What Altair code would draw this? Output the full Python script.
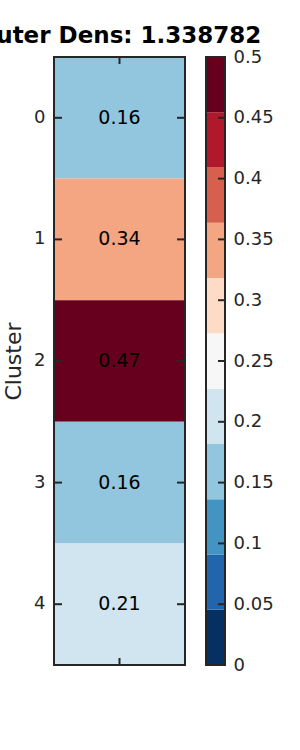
import altair as alt
import numpy as np
import pandas as pd

# ---- data ----
clusters = [0, 1, 2, 3, 4]
densities = [0.16, 0.34, 0.47, 0.16, 0.21]
cbar_ticks = [0, 0.05, 0.1, 0.15, 0.2, 0.25, 0.3, 0.35, 0.4, 0.45, 0.5]
palette = ["#053061", "#2166ac", "#4393c3", "#92c5de", "#d1e5f0", "#f7f7f7",
           "#fddbc7", "#f4a582", "#d6604d", "#b2182b", "#67001f"]
title_text = "Outer Dens: 1.338782"
cmin, cmax = 0, 0.5

FONT = "DejaVu Sans"
INK = "#262626"
W_HEAT = 131
CB_X0, CB_X1 = 152, 171
W, H = 171, 608

heat_df = pd.DataFrame({
    "Cluster": clusters,
    "Density": densities,
    "label": [f"{v:.2f}" for v in densities],
})
edges = np.linspace(cmin, cmax, len(palette) + 1)
cbar_df = pd.DataFrame({"lo": edges[:-1], "hi": edges[1:], "color": palette})
tick_df = pd.DataFrame({"t": cbar_ticks[1:-1]})
one = pd.DataFrame({"k": [0]})

heat_axis = alt.Axis(orient="left", title="Cluster", domain=False, ticks=False,
                     labelAngle=0, labelPadding=9, labelFontSize=18, labelFont=FONT,
                     labelColor=INK, titleFontSize=22, titleFont=FONT,
                     titleFontWeight="normal", titleColor=INK, titlePadding=8)
y_heat = alt.Y("Cluster:O", scale=alt.Scale(paddingInner=0, paddingOuter=0), axis=heat_axis)

heat_rect = alt.Chart(heat_df).mark_rect().encode(
    x=alt.value(0), x2=alt.value(W_HEAT), y=y_heat,
    color=alt.Color("Density:Q",
                    scale=alt.Scale(type="quantize", domain=[cmin, cmax], range=palette),
                    legend=None),
)
heat_text = alt.Chart(heat_df).mark_text(fontSize=19, font=FONT, color="black").encode(
    x=alt.value(W_HEAT / 2), y=y_heat, text="label:N"
)
heat_frame = alt.Chart(one).mark_rect(fillOpacity=0, stroke=INK, strokeWidth=2).encode(
    x=alt.value(0), x2=alt.value(W_HEAT), y=alt.value(0), y2=alt.value(H)
)
ticks_left = alt.Chart(heat_df).mark_rule(color=INK, strokeWidth=2).encode(
    y=y_heat, x=alt.value(0), x2=alt.value(8)
)
ticks_right = alt.Chart(heat_df).mark_rule(color=INK, strokeWidth=2).encode(
    y=y_heat, x=alt.value(W_HEAT - 8), x2=alt.value(W_HEAT)
)
tick_top = alt.Chart(one).mark_rule(color=INK, strokeWidth=2).encode(
    x=alt.value(W_HEAT / 2), y=alt.value(0), y2=alt.value(7)
)
tick_bot = alt.Chart(one).mark_rule(color=INK, strokeWidth=2).encode(
    x=alt.value(W_HEAT / 2), y=alt.value(H - 7), y2=alt.value(H)
)
heat = alt.layer(heat_rect, heat_text, heat_frame, ticks_left, ticks_right, tick_top, tick_bot)

cb_axis = alt.Axis(orient="right", title="", values=cbar_ticks, format="~g",
                   domain=False, ticks=False, grid=False, labelPadding=8,
                   labelFontSize=18, labelFont=FONT, labelColor=INK)
cb_scale = alt.Scale(domain=[cmin, cmax], nice=False, zero=False)

cb_rect = alt.Chart(cbar_df).mark_rect().encode(
    x=alt.value(CB_X0), x2=alt.value(CB_X1),
    y=alt.Y("lo:Q", scale=cb_scale, axis=cb_axis), y2="hi:Q",
    color=alt.Color("color:N", scale=None),
)
cb_frame = alt.Chart(one).mark_rect(fillOpacity=0, stroke=INK, strokeWidth=2).encode(
    x=alt.value(CB_X0), x2=alt.value(CB_X1), y=alt.value(0), y2=alt.value(H)
)
cb_ticks = alt.Chart(tick_df).mark_rule(color=INK, strokeWidth=2).encode(
    y=alt.Y("t:Q", scale=cb_scale, axis=cb_axis), x=alt.value(CB_X1 - 7), x2=alt.value(CB_X1)
)
cbar = alt.layer(cb_rect, cb_frame, cb_ticks)

chart = alt.layer(heat, cbar).resolve_scale(y="independent").properties(
    width=W, height=H,
    padding={"left": 54, "top": 57, "right": 75, "bottom": 85},
    autosize=alt.AutoSizeParams(type="none"),
    title=alt.TitleParams(text=title_text, fontSize=23, fontWeight="bold", font=FONT,
                          color="black", anchor="middle", frame="group",
                          dx=-20.5, dy=30, offset=12, baseline="alphabetic"),
).configure_view(strokeWidth=0)

chart.save("out.html", embed_options={"renderer": "svg", "actions": False})
